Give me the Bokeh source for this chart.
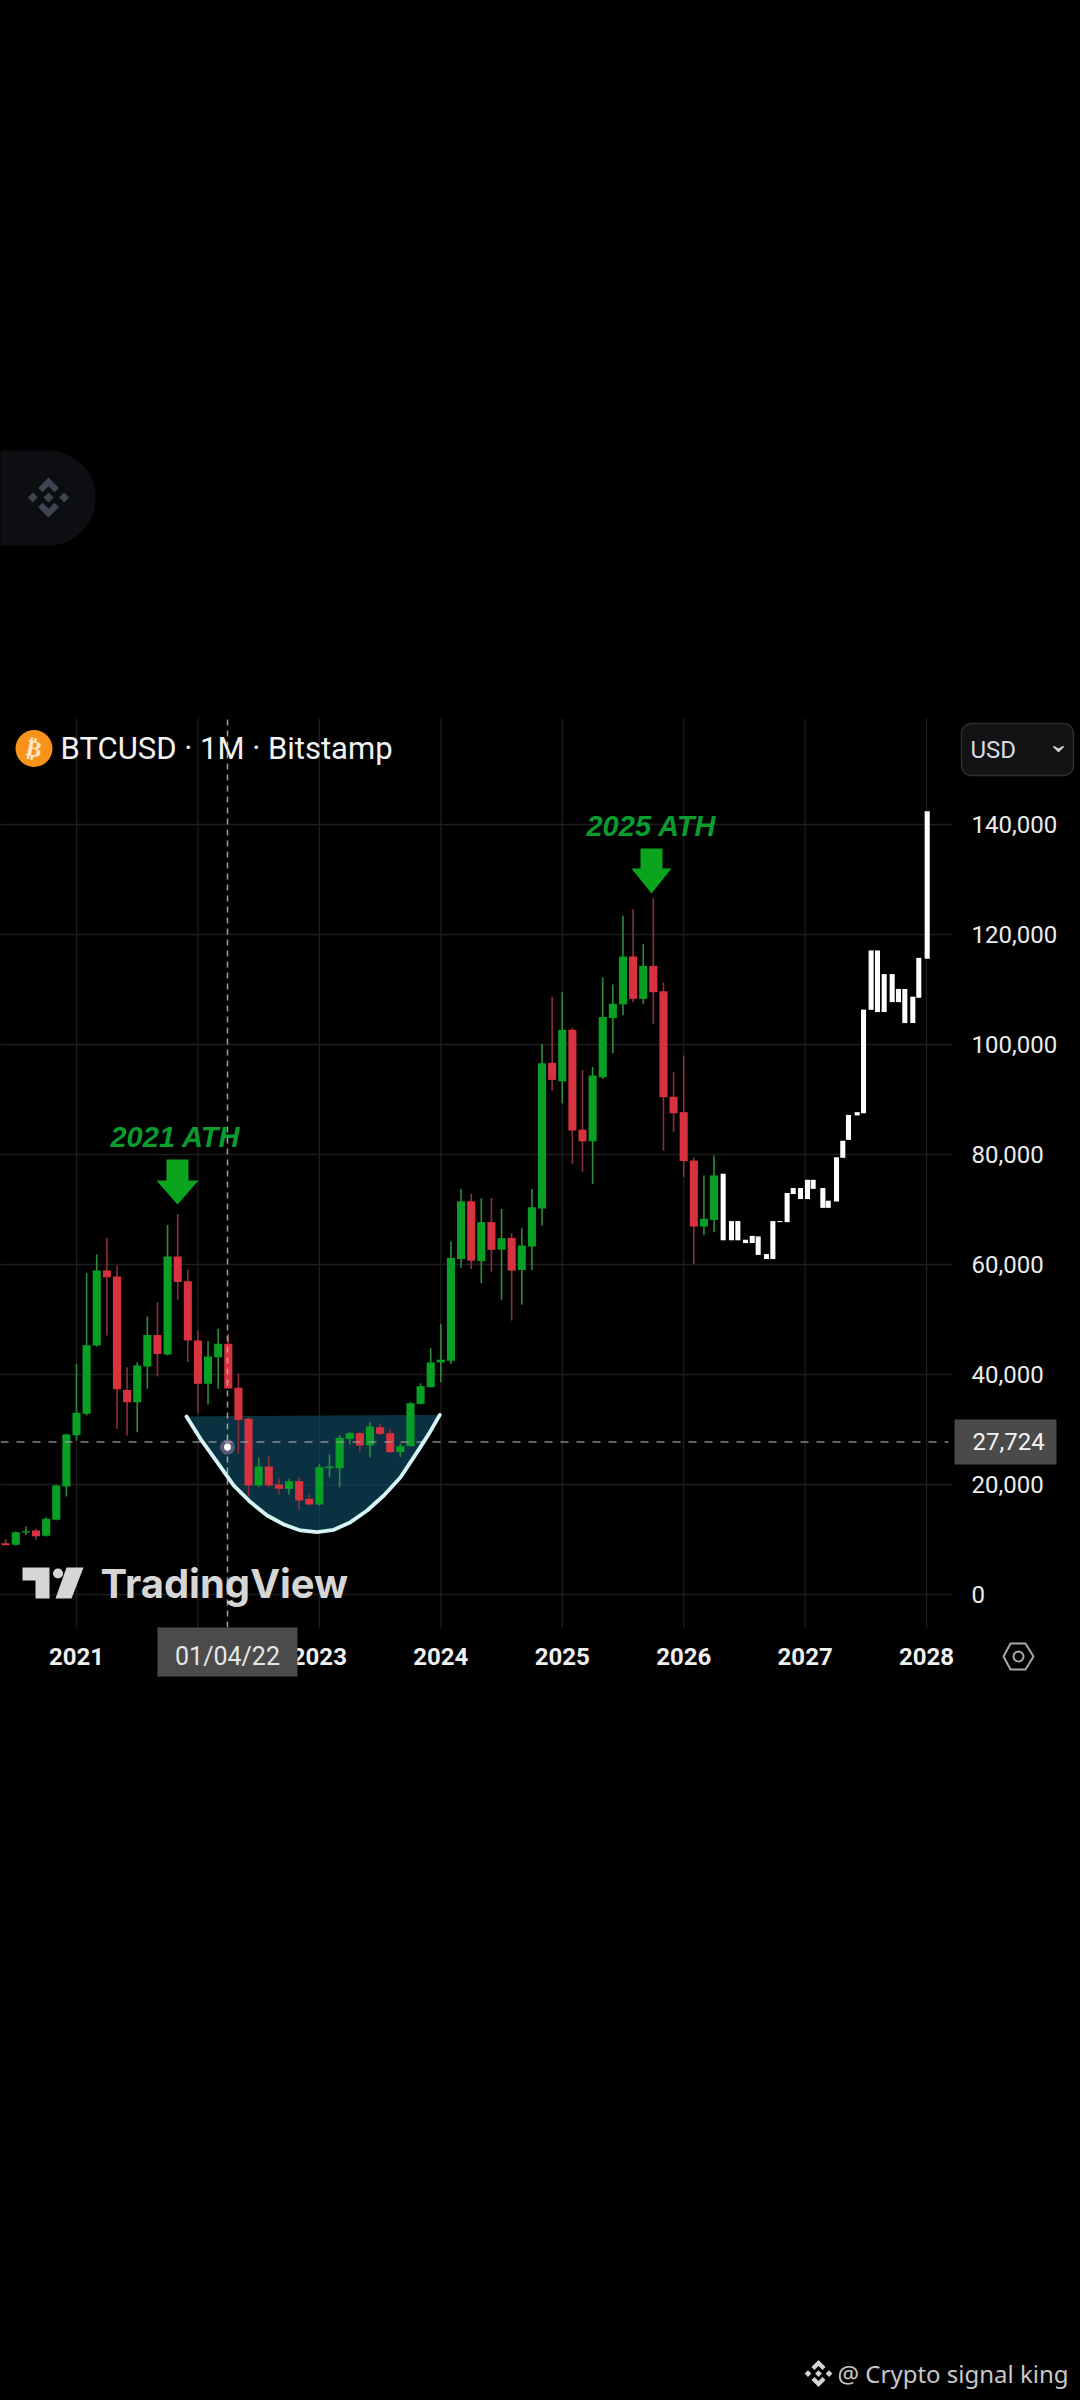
import math
from bokeh.plotting import figure
from bokeh.embed import file_html
from bokeh.resources import INLINE
from bokeh.models import (Range1d, FixedTicker, NumeralTickFormatter, Label,
                          BoxAnnotation, PolyAnnotation, ColumnDataSource)

# ---- data (months counted from Jan 2021, prices in thousands of USD) ----
candle_month = list(range(-7, 64))
candle_open = [9.33, 9.03, 11.27, 11.64, 10.67, 13.57, 19.63, 28.97, 32.85, 45.27, 58.9, 57.81, 37.2, 34.97, 41.45,
               47.2, 43.63, 61.45, 56.96, 46.18, 38.3, 43.15, 45.57, 37.57, 31.94, 19.82, 23.27, 20.0, 19.21, 20.6,
               17.39, 16.36, 22.97, 22.97, 28.3, 29.33, 27.09, 30.42, 29.33, 25.88, 26.97, 34.66, 37.7, 42.2, 42.5,
               61.0, 71.5, 60.6, 67.7, 62.7, 64.84, 59.0, 63.27, 70.2, 96.66, 93.3, 102.66, 84.5, 82.4, 94.05,
               104.8, 107.3, 116.0, 108.3, 114.3, 109.7, 90.5, 87.7, 78.9, 66.9, 68.1]
candle_high = [10.1, 11.45, 12.36, 11.94, 14.06, 19.94, 29.21, 41.94, 58.4, 61.8, 64.84, 59.81, 41.33, 42.24, 50.54,
               53.15, 67.2, 69.2, 59.09, 48.0, 46.06, 48.3, 47.39, 40.12, 32.24, 24.85, 25.09, 21.03, 21.03, 21.33,
               18.42, 23.75, 25.45, 28.9, 29.51, 29.51, 31.33, 31.03, 30.12, 27.39, 34.97, 38.4, 44.8, 49.2, 64.2,
               73.75, 72.8, 72.05, 72.1, 70.1, 65.7, 66.6, 73.75, 100.1, 108.7, 109.5, 103.0, 95.4, 95.9, 112.2,
               110.9, 123.4, 124.65, 118.3, 126.6, 111.3, 95.0, 98.0, 79.5, 76.2, 79.8]
candle_low = [8.9, 8.9, 10.85, 9.94, 10.54, 13.45, 17.82, 28.0, 32.54, 45.09, 47.09, 30.12, 28.9, 29.5, 37.39,
              39.63, 43.45, 53.57, 42.24, 32.97, 34.54, 37.39, 37.39, 25.57, 17.82, 19.51, 19.51, 18.18, 18.18, 15.39,
              16.18, 16.18, 21.33, 19.51, 27.27, 25.88, 24.97, 28.9, 25.7, 25.09, 26.97, 34.54, 37.7, 38.6, 41.9,
              59.4, 59.2, 56.6, 58.6, 53.6, 49.8, 52.7, 59.0, 67.1, 91.6, 89.3, 78.3, 76.8, 74.66, 93.75,
              98.4, 105.3, 107.7, 107.4, 103.75, 80.7, 84.05, 75.9, 60.1, 65.3, 65.9]
candle_close = [8.97, 11.33, 11.5, 10.6, 13.76, 19.82, 29.09, 33.03, 45.33, 58.9, 57.69, 37.33, 34.97, 41.63, 47.2,
                43.75, 61.45, 56.84, 46.18, 38.3, 43.27, 45.57, 37.45, 31.75, 19.82, 23.27, 19.82, 19.21, 20.6, 17.09,
                16.36, 23.15, 23.27, 28.48, 29.33, 27.09, 30.54, 29.21, 25.88, 26.97, 34.78, 37.88, 42.2, 42.7, 61.2,
                71.5, 60.7, 67.7, 62.66, 64.78, 58.9, 63.45, 70.4, 96.6, 93.57, 102.66, 84.35, 82.4, 94.35, 105.0,
                107.4, 116.0, 108.3, 114.3, 109.5, 90.4, 87.5, 78.8, 66.9, 68.3, 76.2]

ghost_month = [63.90, 64.72, 65.35, 66.11, 66.77, 67.36, 68.18, 68.81, 69.5, 70.22, 70.82, 71.54, 72.23, 72.79, 73.75,
               74.28, 75.1, 75.72, 76.28, 77.14, 77.77, 78.52, 79.15, 79.81, 80.6, 81.22, 81.85, 82.64, 83.23, 84.06]
ghost_top = [76.5, 67.9, 67.9, 64.5, 65.2, 65.1, 61.9, 67.9, 67.9, 73.0, 73.9, 73.9, 75.4, 75.4, 73.9,
             71.6, 79.5, 82.5, 87.2, 87.7, 106.35, 117.1, 117.1, 112.8, 112.8, 110.1, 110.1, 108.7, 115.75, 142.4]
ghost_bottom = [64.4, 64.4, 64.4, 63.9, 63.9, 61.75, 61.0, 61.0, 67.7, 67.7, 72.8, 71.9, 71.9, 73.75, 70.3,
                70.3, 71.45, 79.4, 82.66, 87.1, 87.5, 106.3, 105.9, 105.9, 107.7, 107.7, 103.9, 103.9, 108.5, 115.6]

bowl_month = [10.87, 12.25, 13.9, 15.55, 17.19, 18.84, 20.49, 22.13, 23.78, 25.43, 27.08, 28.72, 30.37, 32.02, 33.66, 34.82, 35.9]
bowl_price = [32.36, 28.3, 24.06, 19.8, 16.8, 14.36, 12.73, 11.64, 11.33, 11.76, 13.15, 15.27, 18.0, 21.33, 25.88, 29.2, 32.66]

year_ticks = [0, 12, 24, 36, 48, 60, 72, 84]
year_labels = ["2021", "2022", "2023", "2024", "2025", "2026", "2027", "2028"]
price_ticks = [0, 20000, 40000, 60000, 80000, 100000, 120000, 140000]
crosshair_month = 14.92
last_price = 27724


# helpers for decoration placement only (target pixel -> chart units)
def mx(px):
    return (px - 76) / 10.12


def vy(py):
    return (1594 - py) / 0.0055


p = figure(width=1080, height=2400, output_backend="svg", toolbar_location=None,
           x_range=Range1d(mx(0), mx(1080)), y_range=Range1d(vy(2400), vy(0)),
           background_fill_color="#000000", border_fill_color="#000000", outline_line_color=None,
           min_border_left=0, min_border_right=0, min_border_top=0, min_border_bottom=0,
           y_axis_location="right")

FONT = "Roboto"
FRAME_L, FRAME_R, FRAME_T, FRAME_B = mx(0), mx(952), vy(718), vy(1627)

xa = p.xaxis[0]
xa.fixed_location = FRAME_B
xa.ticker = FixedTicker(ticks=year_ticks)
xa.major_label_overrides = dict(zip(year_ticks, year_labels))
xa.major_label_text_color = "#f0f0f0"
xa.major_label_text_font = FONT
xa.major_label_text_font_size = "24px"
xa.major_label_text_font_style = "bold"
xa.major_label_standoff = 20
xa.major_tick_out = 0
xa.major_tick_in = 0
xa.axis_line_color = None
xa.major_tick_line_color = None
xa.minor_tick_line_color = None

ya = p.yaxis[0]
ya.fixed_location = FRAME_R
ya.ticker = FixedTicker(ticks=price_ticks)
ya.formatter = NumeralTickFormatter(format="0,0")
ya.major_label_text_color = "#ececec"
ya.major_label_text_font = FONT
ya.major_label_text_font_size = "24px"
ya.major_label_standoff = 19
ya.major_tick_out = 0
ya.major_tick_in = 0
ya.axis_line_color = None
ya.major_tick_line_color = None
ya.minor_tick_line_color = None

p.xgrid.visible = False
p.ygrid.visible = False
GRID = "#1e1e1e"
p.segment(year_ticks, [FRAME_B] * len(year_ticks), year_ticks, [FRAME_T] * len(year_ticks), line_color=GRID, line_width=1.3)
p.segment([FRAME_L] * len(price_ticks), price_ticks, [FRAME_R] * len(price_ticks), price_ticks, line_color=GRID, line_width=1.3)

GREEN, RED = "#08a024", "#d8323f"
GREEN_W, RED_W = "#2f8a3c", "#8a2f3a"

# cup
p.patch(bowl_month, [v * 1000 for v in bowl_price], fill_color="#0d4a63", fill_alpha=0.66, line_color=None)

# candles
is_up = [c >= o for o, c in zip(candle_open, candle_close)]
src = ColumnDataSource(dict(
    m=candle_month,
    top=[max(o, c) * 1000 for o, c in zip(candle_open, candle_close)],
    bottom=[min(o, c) * 1000 for o, c in zip(candle_open, candle_close)],
    high=[h * 1000 for h in candle_high],
    low=[l * 1000 for l in candle_low],
    body=[GREEN if u else RED for u in is_up],
    wick=[GREEN_W if u else RED_W for u in is_up],
))
p.segment("m", "high", "m", "low", source=src, line_color="wick", line_width=1.6)
p.vbar(x="m", top="top", bottom="bottom", width=0.8, source=src, fill_color="body", line_color=None)

# crosshair
p.segment([crosshair_month], [FRAME_B], [crosshair_month], [FRAME_T], line_color="#b8b8b8", line_alpha=0.85, line_width=1.5, line_dash="6 5")
p.segment([FRAME_L], [last_price], [mx(948)], [last_price], line_color="#9a9a9a", line_alpha=0.85, line_width=1.5, line_dash="8 8")

# projected white bars
p.vbar(x=ghost_month, top=[v * 1000 for v in ghost_top], bottom=[v * 1000 for v in ghost_bottom],
       width=0.5, fill_color="#ffffff", line_color=None)

# cup outline
p.line(bowl_month, [v * 1000 for v in bowl_price], line_color="#d6f4f4", line_width=3.8, line_cap="round", line_join="round")

# crosshair dot
p.scatter([crosshair_month], [26800], size=15, fill_color="#f0a8e0", fill_alpha=0.35, line_color=None)
p.scatter([crosshair_month], [26800], size=7, fill_color="#ffffff", line_color=None)


def arrow(cx, shaft_half, head_half, top, head_y, tip):
    xs = [cx - shaft_half, cx + shaft_half, cx + shaft_half, cx + head_half, cx, cx - head_half, cx - shaft_half]
    ys = [top, top, head_y, head_y, tip, head_y, head_y]
    p.patch([mx(x) for x in xs], [vy(y) for y in ys], fill_color="#0aa51c", line_color=None)


arrow(177, 11, 21, 1159, 1180, 1204)
arrow(651, 11, 20, 848, 868, 893)


def lab(text, px, py, size, color, font=FONT, style="normal", align="left", **kw):
    l = Label(x=mx(px), y=vy(py), text=text, text_font=font, text_font_size=f"{size}px", text_color=color,
              text_font_style=style, text_align=align, text_baseline="middle", **kw)
    p.add_layout(l)
    return l


lab("2021 ATH", 175, 1136, 29, "#0a9c2e", font="Liberation Sans", style="bold italic", align="center")
lab("2025 ATH", 651, 825, 29, "#0a9c2e", font="Liberation Sans", style="bold italic", align="center")

# header
p.scatter([mx(33.5)], [vy(748)], size=37, fill_color="#f7931a", line_color=None)
lab("₿", 33.5, 748, 23, "#ffe9c8", font="DejaVu Sans", style="bold", align="center", angle=-0.2)
lab("BTCUSD · 1M · Bitstamp", 60, 748, 31, "#f2f2f2")


def poly(pts, fill=None, line=None, lw=1.5):
    p.add_layout(PolyAnnotation(xs=[mx(x) for x, _ in pts], ys=[vy(y) for _, y in pts],
                                fill_color=fill, fill_alpha=1 if fill else 0,
                                line_color=line, line_alpha=1 if line else 0, line_width=lw))


def box(l, r, t, b, fill, line=None, radius=0):
    p.add_layout(BoxAnnotation(left=mx(l), right=mx(r), top=vy(t), bottom=vy(b), fill_color=fill, fill_alpha=1,
                               line_color=line, line_alpha=1 if line else 0, line_width=1.5, border_radius=radius))


def binance(cx, cy, s, color):
    d = s * 0.25
    for dx, dy in [(0, 0), (-s * 0.78, 0), (s * 0.78, 0)]:
        poly([(cx + dx, cy + dy - d), (cx + dx + d, cy + dy), (cx + dx, cy + dy + d), (cx + dx - d, cy + dy)], fill=color)
    for sgn in (-1, 1):
        poly([(cx, cy + sgn * s), (cx + s * 0.52, cy + sgn * s * 0.48), (cx + s * 0.30, cy + sgn * s * 0.26),
              (cx, cy + sgn * s * 0.56), (cx - s * 0.30, cy + sgn * s * 0.26), (cx - s * 0.52, cy + sgn * s * 0.48)],
             fill=color)


# USD selector
box(961, 1073, 723, 775, "#131316", line="#2e2e33", radius=10)
lab("USD", 970, 749, 24, "#d8dae0")
poly([(1053, 746), (1058, 751), (1063, 746), (1058, 749)], fill="#d0d0d0", line="#d0d0d0", lw=1.5)

# price tag
box(954, 1056, 1419, 1464, "#4a4a4a")
lab("27,724", 972, 1441, 24, "#f4f4f4")

# date tag
box(157, 297, 1627, 1676, "#4b4b4b")
lab("01/04/22", 227, 1656, 25, "#e6e6e6", align="center")

# settings hexagon
poly([(1003, 1656), (1010, 1643), (1025, 1643), (1033, 1656), (1025, 1669), (1010, 1669)], line="#a8a8a8", lw=2)
poly([(1018 + 5 * math.cos(a * math.pi / 8), 1656 + 5 * math.sin(a * math.pi / 8)) for a in range(16)], line="#a8a8a8", lw=2)

# TradingView watermark
tv = "#d6d6d6"
T_XS = [22, 49, 49, 35, 35, 22]
T_YS = [1567, 1567, 1598, 1598, 1580, 1580]
p.patch([mx(x) for x in T_XS], [vy(y) for y in T_YS], fill_color=tv, line_color=None)
p.scatter([mx(57.5)], [vy(1573)], size=10, fill_color=tv, line_color=None)
p.patch([mx(x) for x in [66, 83, 71, 55]], [vy(y) for y in [1567, 1567, 1598, 1598]], fill_color=tv, line_color=None)
lab("TradingView", 100, 1583, 40, tv, font="Inter", style="bold")

# left pill with logo
box(-60, 95, 450, 545, "#0c0e12", radius=47)
binance(48, 497, 20, "#3f4550")

# footer watermark
binance(818, 2373, 13.5, "#d4d4d4")
lab("@ Crypto signal king", 837, 2373, 24, "#c8c8c8", font="Noto Sans")

html = file_html(p, INLINE)
html = html.replace("</head>", "<style>html,body{background:#000;margin:0;padding:0;overflow:hidden}</style></head>")
open("out.html", "w").write(html)
